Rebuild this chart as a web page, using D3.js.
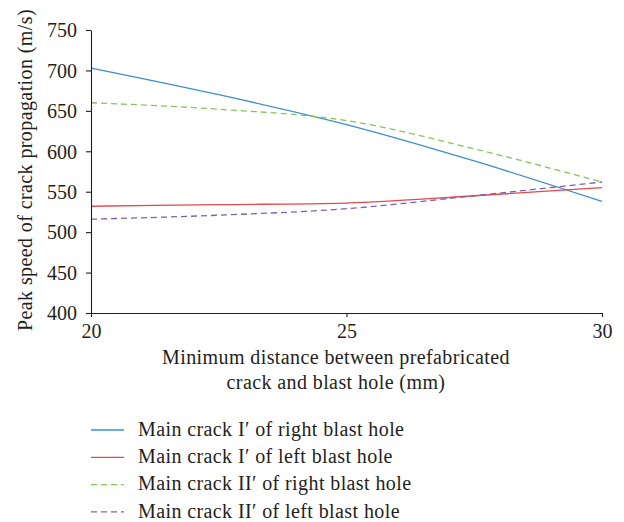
<!DOCTYPE html>
<html><head><meta charset="utf-8">
<script src="https://cdn.jsdelivr.net/npm/d3@7/dist/d3.min.js"></script>
<style>body{margin:0;background:#fff}svg{display:block}text{font-family:"Liberation Serif","DejaVu Serif",serif;fill:#231f20}</style>
</head><body><svg id="c" width="624" height="522"></svg>
<script>
const distances = [20, 22.5, 25, 27.5, 30];
const rightI  = [703, 670, 633, 588, 538];
const leftI   = [532, 534, 536, 545, 555];
const rightII = [660, 652, 638, 603, 562];
const leftII  = [516, 521, 529, 545, 562];
const xTicks = [20, 25, 30];
const yTicks = [400, 450, 500, 550, 600, 650, 700, 750];
const seriesNames = ["Main crack I\u2032 of right blast hole", "Main crack I\u2032 of left blast hole", "Main crack II\u2032 of right blast hole", "Main crack II\u2032 of left blast hole"];

const series = [
  {name: seriesNames[0], values: rightI,  color: "#3a8fd2", dash: null},
  {name: seriesNames[1], values: leftI,   color: "#e4494e", dash: null},
  {name: seriesNames[2], values: rightII, color: "#86c45e", dash: "6,4"},
  {name: seriesNames[3], values: leftII,  color: "#7f5fb4", dash: "6,4"}
];

const svg = d3.select("#c");
const x = d3.scaleLinear().domain([20, 30]).range([91, 602]);
const y = d3.scaleLinear().domain([400, 750]).range([313, 30]);

const line = d3.line().x((d, i) => x(distances[i])).y(d => y(d)).curve(d3.curveMonotoneX);

series.forEach(s => {
  svg.append("path").attr("d", line(s.values)).attr("fill", "none")
    .attr("stroke", s.color).attr("stroke-width", 1.3)
    .attr("stroke-dasharray", s.dash);
});

const xAxis = svg.append("g").attr("transform", "translate(0,313)")
  .call(d3.axisBottom(x).tickValues(xTicks).tickSize(4).tickSizeOuter(0).tickPadding(7));
const yAxis = svg.append("g").attr("transform", "translate(91,0)")
  .call(d3.axisLeft(y).tickValues(yTicks).tickSize(5).tickSizeOuter(0).tickPadding(9));
[xAxis, yAxis].forEach(g => {
  g.select(".domain").attr("stroke", "#231f20").attr("stroke-width", 1.1);
  g.selectAll(".tick line").attr("stroke", "#231f20").attr("stroke-width", 1.1);
  g.selectAll(".tick text").attr("font-size", 20).attr("font-family", "Liberation Serif, serif").attr("fill", "#231f20");
});
yAxis.selectAll(".tick text").attr("dy", "0.34em");

const ls = 0.4;
svg.append("text").attr("x", 336).attr("y", 363.5).attr("text-anchor", "middle").attr("font-size", 20)
  .attr("letter-spacing", ls).text("Minimum distance between prefabricated");
svg.append("text").attr("x", 336).attr("y", 388.5).attr("text-anchor", "middle").attr("font-size", 20)
  .attr("letter-spacing", ls).text("crack and blast hole (mm)");
svg.append("text").attr("transform", "translate(32,170) rotate(-90)").attr("text-anchor", "middle").attr("font-size", 20)
  .attr("letter-spacing", ls).text("Peak speed of crack propagation (m/s)");

const lg = svg.append("g");
series.forEach((s, i) => {
  const yy = 430 + i * 27.3;
  lg.append("line").attr("x1", 91).attr("x2", 124).attr("y1", yy).attr("y2", yy)
    .attr("stroke", s.color).attr("stroke-width", 1.3).attr("stroke-dasharray", s.dash);
  lg.append("text").attr("x", 138).attr("y", yy + 5.7).attr("font-size", 20)
    .attr("letter-spacing", ls).text(s.name);
});
</script></body></html>
